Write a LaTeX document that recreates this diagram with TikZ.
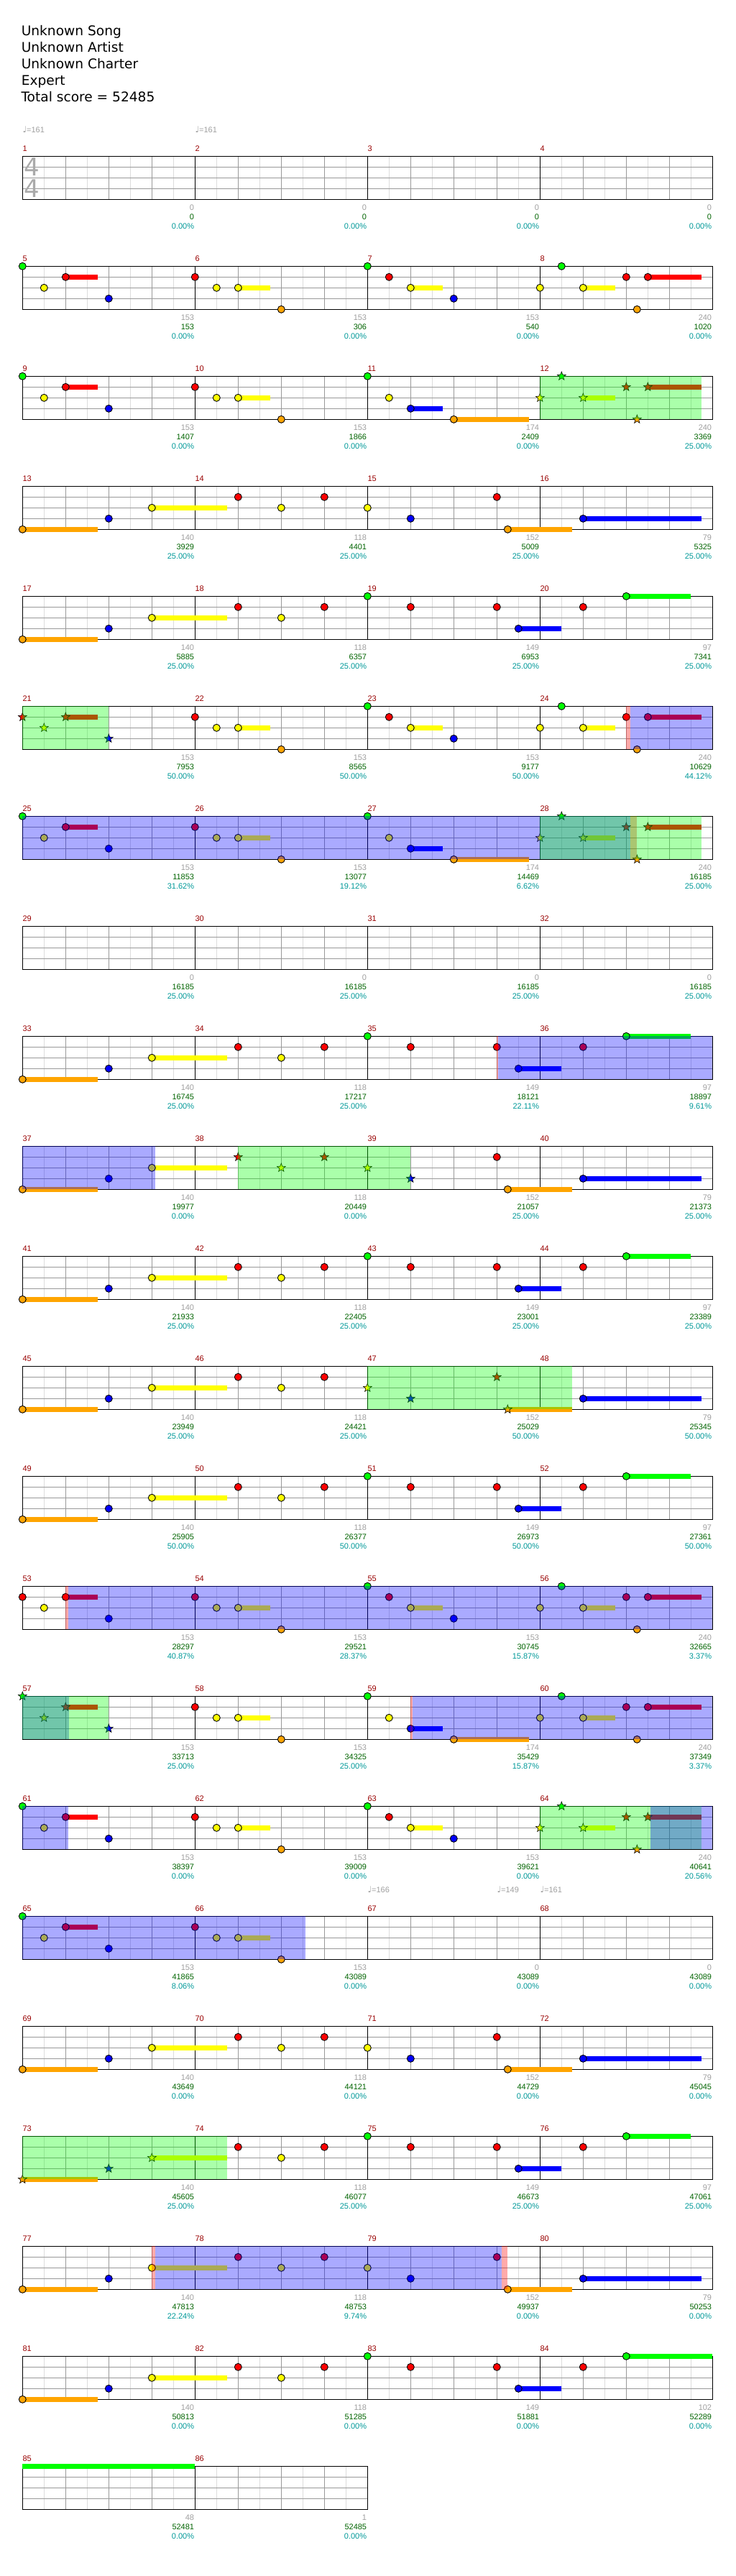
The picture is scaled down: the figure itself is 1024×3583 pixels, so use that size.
\documentclass[tikz,border=0pt]{standalone}
\usepackage{fontspec}
\setmainfont{Liberation Sans}
\newfontfamily\dejavu{DejaVu Sans}
\usetikzlibrary{shapes.geometric}
\definecolor{lane0}{RGB}{0,255,0}
\definecolor{lane1}{RGB}{255,0,0}
\definecolor{lane2}{RGB}{255,255,0}
\definecolor{lane3}{RGB}{0,0,255}
\definecolor{lane4}{RGB}{255,165,0}
\definecolor{mnumc}{RGB}{153,0,0}
\definecolor{grayc}{RGB}{160,160,160}
\definecolor{scorec}{RGB}{0,100,0}
\definecolor{pctc}{RGB}{0,153,153}
\definecolor{lightgrid}{RGB}{220,220,220}
\definecolor{darkgrid}{RGB}{153,153,153}
\definecolor{tsgray}{RGB}{170,170,170}
\definecolor{ovgreen}{RGB}{0,255,0}
\definecolor{ovblue}{RGB}{0,0,255}
\definecolor{ovred}{RGB}{255,0,0}
% note head, star, sustain, overlay, grid
\newcommand\NoteC[3]{\filldraw[notest, fill=lane#3] ({31.3+15*(#2)},{217.3+153*(#1)+15*(#3)}) circle[radius=5pt];}
\newcommand\StarN[3]{\node[starst, fill=lane#3] at ({31.3+15*(#2)},{217.3+153*(#1)+15*(#3)}) {};}
\newcommand\SusB[4]{\fill[fill=lane#4] ({31.3+15*(#2)},{217.3+153*(#1)+15*(#4)-3.5}) rectangle ({31.3+15*(#3)},{217.3+153*(#1)+15*(#4)+3.5});}
\newcommand\Ovl[4]{\fill[fill=#4, opacity=0.333] (#2,{217.3+153*(#1)}) rectangle (#3,{277.3+153*(#1)});}
\newcommand\NoteList[2]{\foreach \np/\nl/\nf in {#2}{\ifnum\nf=1 \StarN{#1}{\np}{\nl}\else\NoteC{#1}{\np}{\nl}\fi}}
\newcommand\SusList[2]{\foreach \sp/\se/\sl in {#2}{\SusB{#1}{\sp}{\se}{\sl}}}
\newcommand\Grid[2]{%
  \pgfmathsetmacro\yt{217.3+153*(#1)}%
  \foreach \k in {1,...,#2}{%
    \pgfmathsetmacro\xa{31.3+240*(\k-1)}%
    \foreach \d in {30,90,150,210} \draw[lightgrid, line width=1pt] ({\xa+\d},\yt) -- ++(0,60);
    \foreach \d in {60,120,180} \draw[darkgrid, line width=1pt] ({\xa+\d},\yt) -- ++(0,60);
  }%
  \foreach \d in {15,30,45} \draw[darkgrid, line width=1pt] (31.3,{\yt+\d}) -- ++({240*#2},0);
  \foreach \k in {2,...,#2} \draw[black, line width=1pt] ({31.3+240*(\k-1)},\yt) -- ++(0,60);
  \draw[black, line width=1pt] (31.3,\yt) rectangle ++({240*#2},60);
}
\begin{document}
\begin{tikzpicture}[x=1pt,y=-1pt,
  notest/.style={draw=black, line width=0.9pt},
  starst/.style={star, star points=5, star point ratio=2.4, minimum size=12.5pt, inner sep=0pt, draw=black, line width=0.6pt},
  mnum/.style={anchor=base west, inner sep=0pt, text=mnumc, font=\fontsize{11}{11}\selectfont},
  gnum/.style={anchor=base east, inner sep=0pt, text=grayc, font=\fontsize{11}{11}\selectfont},
  snum/.style={anchor=base east, inner sep=0pt, text=scorec, font=\fontsize{11}{11}\selectfont},
  pnum/.style={anchor=base east, inner sep=0pt, text=pctc, font=\fontsize{11}{11}\selectfont},
  tempo/.style={anchor=base west, inner sep=0pt, text=grayc, font=\fontsize{11}{11}\selectfont},
  head/.style={anchor=base west, inner sep=0pt, text=black, font=\dejavu\fontsize{18.6}{18.6}\selectfont},
  tsig/.style={anchor=base, inner sep=0pt, text=tsgray, font=\dejavu\fontsize{34}{34}\selectfont}]
\fill[white] (0,0) rectangle (1024,3583);
\useasboundingbox (0,0) rectangle (1024,3583);
% header
\node[head] (song) at (29.6,49.3) {Unknown Song};
\node[head] (artist) at (29.6,72.3) {Unknown Artist};
\node[head] (charter) at (29.6,95.3) {Unknown Charter};
\node[head] (diff) at (29.6,118.3) {Expert};
\node[head] (total) at (29.3,141.3) {Total score = 52485};
% tempo marks
\node[tempo] (t1) at (31.3,184.3) {{\dejavu\fontsize{12}{12}\selectfont ♩}=161};
\node[tempo] (t2) at (271.3,184.3) {{\dejavu\fontsize{12}{12}\selectfont ♩}=161};
\node[tempo] (t3) at (511.3,2632.3) {{\dejavu\fontsize{12}{12}\selectfont ♩}=166};
\node[tempo] (t4) at (691.3,2632.3) {{\dejavu\fontsize{12}{12}\selectfont ♩}=149};
\node[tempo] (t5) at (751.3,2632.3) {{\dejavu\fontsize{12}{12}\selectfont ♩}=161};
% grids
\foreach \r in {0,...,20} {\Grid{\r}{4}}
\Grid{21}{2}
% time signature
\node[tsig] (ts1) at (44.3,245) {4};
\node[tsig] (ts2) at (44.3,275) {4};
% ---- row 1 (m5-8)
\SusList{1}{4/7/1,20/23/2,36/39/2,52/55/2,58/63/1}
\NoteList{1}{0/0/0,2/2/0,4/1/0,8/3/0,16/1/0,18/2/0,20/2/0,24/4/0,32/0/0,34/1/0,36/2/0,40/3/0,48/2/0,50/0/0,52/2/0,56/1/0,57/4/0,58/1/0}
% ---- row 2 (m9-12)
\SusList{2}{4/7/1,20/23/2,36/39/3,40/47/4,52/55/2,58/63/1}
\NoteList{2}{0/0/0,2/2/0,4/1/0,8/3/0,16/1/0,18/2/0,20/2/0,24/4/0,32/0/0,34/2/0,36/3/0,40/4/0,48/2/1,50/0/1,52/2/1,56/1/1,57/4/1,58/1/1}
\Ovl{2}{751.3}{976}{ovgreen}
% ---- row 3 (m13-16)
\SusList{3}{0/7/4,12/19/2,45/51/4,52/63/3}
\NoteList{3}{0/4/0,8/3/0,12/2/0,20/1/0,24/2/0,28/1/0,32/2/0,36/3/0,44/1/0,45/4/0,52/3/0}
% ---- row 4 (m17-20)
\SusList{4}{0/7/4,12/19/2,46/50/3,56/62/0}
\NoteList{4}{0/4/0,8/3/0,12/2/0,20/1/0,24/2/0,28/1/0,32/0/0,36/1/0,44/1/0,46/3/0,52/1/0,56/0/0}
% ---- row 5 (m21-24)
\SusList{5}{4/7/1,20/23/2,36/39/2,52/55/2,58/63/1}
\NoteList{5}{0/1/1,2/2/1,4/1/1,8/3/1,16/1/0,18/2/0,20/2/0,24/4/0,32/0/0,34/1/0,36/2/0,40/3/0,48/2/0,50/0/0,52/2/0,56/1/0,57/4/0,58/1/0}
\Ovl{5}{31.3}{151.3}{ovgreen}
\Ovl{5}{871.3}{877.3}{ovred}
\Ovl{5}{877.3}{991.3}{ovblue}
% ---- row 6 (m25-28)
\SusList{6}{4/7/1,20/23/2,36/39/3,40/47/4,52/55/2,58/63/1}
\NoteList{6}{0/0/0,2/2/0,4/1/0,8/3/0,16/1/0,18/2/0,20/2/0,24/4/0,32/0/0,34/2/0,36/3/0,40/4/0,48/2/1,50/0/1,52/2/1,56/1/1,57/4/1,58/1/1}
\Ovl{6}{31.3}{877.3}{ovblue}
\Ovl{6}{877.3}{886.3}{ovred}
\Ovl{6}{751.3}{976}{ovgreen}
% ---- row 8 (m33-36)
\SusList{8}{0/7/4,12/19/2,46/50/3,56/62/0}
\NoteList{8}{0/4/0,8/3/0,12/2/0,20/1/0,24/2/0,28/1/0,32/0/0,36/1/0,44/1/0,46/3/0,52/1/0,56/0/0}
\Ovl{8}{691.3}{693.3}{ovred}
\Ovl{8}{693.3}{991.3}{ovblue}
% ---- row 9 (m37-40)
\SusList{9}{0/7/4,12/19/2,45/51/4,52/63/3}
\NoteList{9}{0/4/0,8/3/0,12/2/0,20/1/1,24/2/1,28/1/1,32/2/1,36/3/1,44/1/0,45/4/0,52/3/0}
\Ovl{9}{31.3}{216.1}{ovblue}
\Ovl{9}{331.3}{571.3}{ovgreen}
% ---- row 10 (m41-44)
\SusList{10}{0/7/4,12/19/2,46/50/3,56/62/0}
\NoteList{10}{0/4/0,8/3/0,12/2/0,20/1/0,24/2/0,28/1/0,32/0/0,36/1/0,44/1/0,46/3/0,52/1/0,56/0/0}
% ---- row 11 (m45-48)
\SusList{11}{0/7/4,12/19/2,45/51/4,52/63/3}
\NoteList{11}{0/4/0,8/3/0,12/2/0,20/1/0,24/2/0,28/1/0,32/2/1,36/3/1,44/1/1,45/4/1,52/3/0}
\Ovl{11}{511.3}{796.3}{ovgreen}
% ---- row 12 (m49-52)
\SusList{12}{0/7/4,12/19/2,46/50/3,56/62/0}
\NoteList{12}{0/4/0,8/3/0,12/2/0,20/1/0,24/2/0,28/1/0,32/0/0,36/1/0,44/1/0,46/3/0,52/1/0,56/0/0}
% ---- row 13 (m53-56)
\SusList{13}{4/7/1,20/23/2,36/39/2,52/55/2,58/63/1}
\NoteList{13}{0/1/0,2/2/0,4/1/0,8/3/0,16/1/0,18/2/0,20/2/0,24/4/0,32/0/0,34/1/0,36/2/0,40/3/0,48/2/0,50/0/0,52/2/0,56/1/0,57/4/0,58/1/0}
\Ovl{13}{91.3}{94.7}{ovred}
\Ovl{13}{94.7}{991.3}{ovblue}
% ---- row 14 (m57-60)
\SusList{14}{4/7/1,20/23/2,36/39/3,40/47/4,52/55/2,58/63/1}
\NoteList{14}{0/0/1,2/2/1,4/1/1,8/3/1,16/1/0,18/2/0,20/2/0,24/4/0,32/0/0,34/2/0,36/3/0,40/4/0,48/2/0,50/0/0,52/2/0,56/1/0,57/4/0,58/1/0}
\Ovl{14}{31.3}{96}{ovblue}
\Ovl{14}{31.3}{151.3}{ovgreen}
\Ovl{14}{571.3}{574.3}{ovred}
\Ovl{14}{574.3}{991.3}{ovblue}
% ---- row 15 (m61-64)
\SusList{15}{4/7/1,20/23/2,36/39/2,52/55/2,58/63/1}
\NoteList{15}{0/0/0,2/2/0,4/1/0,8/3/0,16/1/0,18/2/0,20/2/0,24/4/0,32/0/0,34/1/0,36/2/0,40/3/0,48/2/1,50/0/1,52/2/1,56/1/1,57/4/1,58/1/1}
\Ovl{15}{31.3}{94.7}{ovblue}
\Ovl{15}{751.3}{976}{ovgreen}
\Ovl{15}{905.2}{991.3}{ovblue}
% ---- row 16 (m65-68)
\SusList{16}{4/7/1,20/23/2}
\NoteList{16}{0/0/0,2/2/0,4/1/0,8/3/0,16/1/0,18/2/0,20/2/0,24/4/0}
\Ovl{16}{31.3}{425.2}{ovblue}
% ---- row 17 (m69-72)
\SusList{17}{0/7/4,12/19/2,45/51/4,52/63/3}
\NoteList{17}{0/4/0,8/3/0,12/2/0,20/1/0,24/2/0,28/1/0,32/2/0,36/3/0,44/1/0,45/4/0,52/3/0}
% ---- row 18 (m73-76)
\SusList{18}{0/7/4,12/19/2,46/50/3,56/62/0}
\NoteList{18}{0/4/1,8/3/1,12/2/1,20/1/0,24/2/0,28/1/0,32/0/0,36/1/0,44/1/0,46/3/0,52/1/0,56/0/0}
\Ovl{18}{31.3}{316.3}{ovgreen}
% ---- row 19 (m77-80)
\SusList{19}{0/7/4,12/19/2,45/51/4,52/63/3}
\NoteList{19}{0/4/0,8/3/0,12/2/0,20/1/0,24/2/0,28/1/0,32/2/0,36/3/0,44/1/0,45/4/0,52/3/0}
\Ovl{19}{211}{216.2}{ovred}
\Ovl{19}{216.2}{697.5}{ovblue}
\Ovl{19}{697.5}{706}{ovred}
% ---- row 20 (m81-84)
\SusList{20}{0/7/4,12/19/2,46/50/3,56/64/0}
\NoteList{20}{0/4/0,8/3/0,12/2/0,20/1/0,24/2/0,28/1/0,32/0/0,36/1/0,44/1/0,46/3/0,52/1/0,56/0/0}
% ---- row 21 (m85-86)
\SusList{21}{0/16/0}
% measure numbers and scores
\foreach \mm/\ga/\gb/\gc in {1/0/0/0.00,2/0/0/0.00,3/0/0/0.00,4/0/0/0.00,5/153/153/0.00,6/153/306/0.00,7/153/540/0.00,8/240/1020/0.00,9/153/1407/0.00,10/153/1866/0.00,11/174/2409/0.00,12/240/3369/25.00,13/140/3929/25.00,14/118/4401/25.00,15/152/5009/25.00,16/79/5325/25.00,17/140/5885/25.00,18/118/6357/25.00,19/149/6953/25.00,20/97/7341/25.00,21/153/7953/50.00,22/153/8565/50.00,23/153/9177/50.00,24/240/10629/44.12,25/153/11853/31.62,26/153/13077/19.12,27/174/14469/6.62,28/240/16185/25.00,29/0/16185/25.00,30/0/16185/25.00,31/0/16185/25.00,32/0/16185/25.00,33/140/16745/25.00,34/118/17217/25.00,35/149/18121/22.11,36/97/18897/9.61,37/140/19977/0.00,38/118/20449/0.00,39/152/21057/25.00,40/79/21373/25.00,41/140/21933/25.00,42/118/22405/25.00,43/149/23001/25.00,44/97/23389/25.00,45/140/23949/25.00,46/118/24421/25.00,47/152/25029/50.00,48/79/25345/50.00,49/140/25905/50.00,50/118/26377/50.00,51/149/26973/50.00,52/97/27361/50.00,53/153/28297/40.87,54/153/29521/28.37,55/153/30745/15.87,56/240/32665/3.37,57/153/33713/25.00,58/153/34325/25.00,59/174/35429/15.87,60/240/37349/3.37,61/153/38397/0.00,62/153/39009/0.00,63/153/39621/0.00,64/240/40641/20.56,65/153/41865/8.06,66/153/43089/0.00,67/0/43089/0.00,68/0/43089/0.00,69/140/43649/0.00,70/118/44121/0.00,71/152/44729/0.00,72/79/45045/0.00,73/140/45605/25.00,74/118/46077/25.00,75/149/46673/25.00,76/97/47061/25.00,77/140/47813/22.24,78/118/48753/9.74,79/152/49937/0.00,80/79/50253/0.00,81/140/50813/0.00,82/118/51285/0.00,83/149/51881/0.00,84/102/52289/0.00,85/48/52481/0.00,86/1/52485/0.00}{
  \pgfmathtruncatemacro\rr{(\mm-1)/4}
  \pgfmathtruncatemacro\cc{\mm-1-4*\rr}
  \pgfmathsetmacro\xs{31.3+240*\cc}
  \pgfmathsetmacro\ys{217.3+153*\rr}
  \node[mnum] (mn\mm) at (\xs,{\ys-6.6}) {\mm};
  \node[gnum] (ms\mm) at ({\xs+239},{\ys+75.4}) {\ga};
  \node[snum] (sc\mm) at ({\xs+239},{\ys+88.4}) {\gb};
  \node[pnum] (pc\mm) at ({\xs+239},{\ys+101.2}) {\gc\%};
}
\end{tikzpicture}
\end{document}
